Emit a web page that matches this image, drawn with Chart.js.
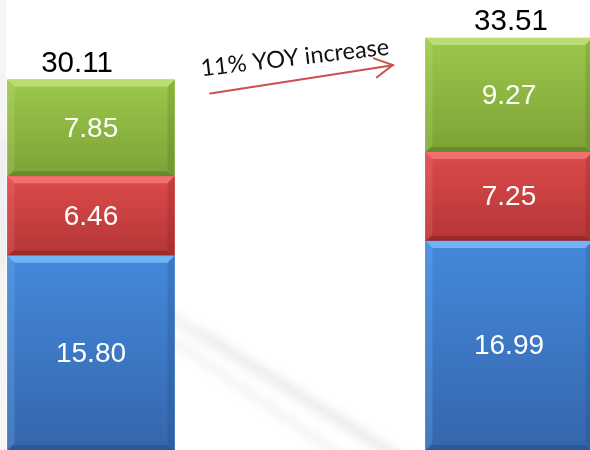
<!DOCTYPE html>
<html>
<head>
<meta charset="utf-8">
<script src="https://cdn.jsdelivr.net/npm/chart.js@4/dist/chart.umd.min.js"></script>
<style>
  html, body { margin: 0; padding: 0; background: #ffffff; overflow: hidden; }
  #wrap { width: 590px; height: 450px; }
</style>
</head>
<body>
<div id="wrap"><canvas id="c" width="590" height="450"></canvas></div>
<script>
// ---- data ----
const categories = ['Year 1', 'Year 2'];
const blueValues = [15.80, 16.99];
const redValues = [6.46, 7.25];
const greenValues = [7.85, 9.27];
const totals = [30.11, 33.51];
const annotationText = '11% YOY increase';

const seriesStyles = [
  { top: '#4489DB', bottom: '#3566AC', light: 'rgba(125,190,250,0.8)', dark: 'rgba(30,60,110,0.35)' },
  { top: '#DC4B4B', bottom: '#B53535', light: 'rgba(250,130,130,0.7)', dark: 'rgba(110,20,20,0.35)' },
  { top: '#9DC84C', bottom: '#7CA236', light: 'rgba(200,230,130,0.7)', dark: 'rgba(70,95,25,0.35)' }
];

function toPoints(vals) { return vals.map((v, i) => ({ x: i, y: v })); }

const bgPlugin = {
  id: 'bg',
  beforeDraw(chart) {
    const c = chart.ctx;
    c.save();
    c.fillStyle = '#ffffff';
    c.fillRect(0, 0, chart.width, chart.height);
    c.filter = 'blur(5px)';
    c.lineCap = 'round';
    const strands = [
      [172, 318, 420, 470, 12, 0.08],
      [172, 340, 350, 462, 8, 0.07],
      [200, 330, 395, 455, 6, 0.06],
      [3, 140, 3, 270, 6, 0.07]
    ];
    strands.forEach(s => {
      c.strokeStyle = 'rgba(90,90,90,' + s[5] + ')';
      c.lineWidth = s[4];
      c.beginPath(); c.moveTo(s[0], s[1]); c.lineTo(s[2], s[3]); c.stroke();
    });
    c.filter = 'none';
    c.fillStyle = 'rgba(0,0,0,0.04)';
    c.fillRect(0, 0, 6, chart.height);
    c.restore();
  }
};

const bevelPlugin = {
  id: 'bevel',
  afterDatasetDraw(chart, args) {
    const c = chart.ctx;
    const st = seriesStyles[args.index];
    const meta = args.meta;
    const b = 7;
    meta.data.forEach(el => {
      const p = el.getProps(['x', 'y', 'base', 'width'], true);
      const x0 = p.x - p.width / 2, x1 = p.x + p.width / 2;
      const y0 = Math.min(p.y, p.base), y1 = Math.max(p.y, p.base);
      c.save();
      const g = c.createLinearGradient(0, y0, 0, y1);
      g.addColorStop(0, st.top);
      g.addColorStop(1, st.bottom);
      c.fillStyle = g;
      c.fillRect(x0, y0, x1 - x0, y1 - y0);
      // top bevel
      c.fillStyle = st.light;
      c.beginPath();
      c.moveTo(x0, y0); c.lineTo(x1, y0); c.lineTo(x1 - b, y0 + b); c.lineTo(x0 + b, y0 + b); c.closePath();
      c.fill();
      // left bevel
      c.globalAlpha = 0.3;
      c.beginPath();
      c.moveTo(x0, y0); c.lineTo(x0 + b, y0 + b); c.lineTo(x0 + b, y1 - b); c.lineTo(x0, y1); c.closePath();
      c.fill();
      c.globalAlpha = 1;
      // bottom bevel
      c.fillStyle = st.dark;
      c.beginPath();
      c.moveTo(x0, y1); c.lineTo(x1, y1); c.lineTo(x1 - b, y1 - b + 2); c.lineTo(x0 + b, y1 - b + 2); c.closePath();
      c.fill();
      // right bevel
      c.globalAlpha = 0.55;
      c.beginPath();
      c.moveTo(x1, y0); c.lineTo(x1 - b, y0 + b); c.lineTo(x1 - b, y1 - b); c.lineTo(x1, y1); c.closePath();
      c.fill();
      c.restore();
    });
  }
};

const labelPlugin = {
  id: 'labels',
  afterDatasetsDraw(chart, args, opts) {
    const c = chart.ctx;
    c.save();
    c.textAlign = 'center';
    const n = chart.data.datasets.length;
    chart.data.datasets.forEach((ds, di) => {
      const meta = chart.getDatasetMeta(di);
      meta.data.forEach((el, i) => {
        const p = el.getProps(['x', 'y', 'base'], true);
        c.font = '28px "Liberation Sans", Arial, sans-serif';
        c.fillStyle = '#ffffff';
        c.textBaseline = 'middle';
        c.fillText(ds.data[i].y.toFixed(2), p.x, (p.y + p.base) / 2 + 1);
        if (di === n - 1) {
          c.font = '29.5px "Liberation Sans", Arial, sans-serif';
          c.fillStyle = '#000000';
          c.textBaseline = 'alphabetic';
          c.fillText(totals[i].toFixed(2), p.x + opts.totalOffsets[i], p.y - 8);
        }
      });
    });
    c.restore();
  }
};

const annotationPlugin = {
  id: 'yoy',
  afterDraw(chart, args, opts) {
    const xs = chart.scales.x, ys = chart.scales.y;
    const c = chart.ctx;
    const ax0 = xs.getPixelForValue(opts.arrowFrom[0]), ay0 = ys.getPixelForValue(opts.arrowFrom[1]);
    const ax1 = xs.getPixelForValue(opts.arrowTo[0]), ay1 = ys.getPixelForValue(opts.arrowTo[1]);
    c.save();
    c.strokeStyle = '#C9504C';
    c.lineWidth = 2;
    c.lineCap = 'round';
    c.beginPath(); c.moveTo(ax0, ay0); c.lineTo(ax1, ay1); c.stroke();
    const ang = Math.atan2(ay1 - ay0, ax1 - ax0);
    const hl = 20, ha = 0.5;
    c.beginPath();
    c.moveTo(ax1 - hl * Math.cos(ang - ha), ay1 - hl * Math.sin(ang - ha));
    c.lineTo(ax1, ay1);
    c.lineTo(ax1 - hl * Math.cos(ang + ha), ay1 - hl * Math.sin(ang + ha));
    c.stroke();
    const tx = xs.getPixelForValue(opts.textAt[0]), ty = ys.getPixelForValue(opts.textAt[1]);
    c.translate(tx, ty);
    c.rotate(opts.textAngle * Math.PI / 180);
    c.fillStyle = '#111111';
    c.font = '23.5px Lato, "Open Sans", sans-serif';
    c.textAlign = 'left';
    c.textBaseline = 'alphabetic';
    c.fillText(annotationText, 0, 0);
    c.restore();
  }
};

const datasets = [
  { label: 'Blue', data: toPoints(blueValues), backgroundColor: seriesStyles[0].top },
  { label: 'Red', data: toPoints(redValues), backgroundColor: seriesStyles[1].top },
  { label: 'Green', data: toPoints(greenValues), backgroundColor: seriesStyles[2].top }
];

new Chart(document.getElementById('c'), {
  type: 'bar',
  data: { labels: categories, datasets },
  options: {
    responsive: false,
    animation: false,
    events: [],
    barThickness: 167,
    layout: { padding: 0 },
    scales: {
      x: { type: 'linear', stacked: true, display: false, min: -0.2177, max: 1.1938, offset: false },
      y: { stacked: true, display: false, min: 0, max: 36.6 }
    },
    plugins: {
      legend: { display: false },
      tooltip: { enabled: false },
      labels: { totalOffsets: [-14, 2] },
      yoy: { arrowFrom: [0.285, 29.0], arrowTo: [0.722, 31.3], textAt: [0.265, 30.4], textAngle: -6.6 }
    }
  },
  plugins: [bgPlugin, bevelPlugin, labelPlugin, annotationPlugin]
});
</script>
</body>
</html>
